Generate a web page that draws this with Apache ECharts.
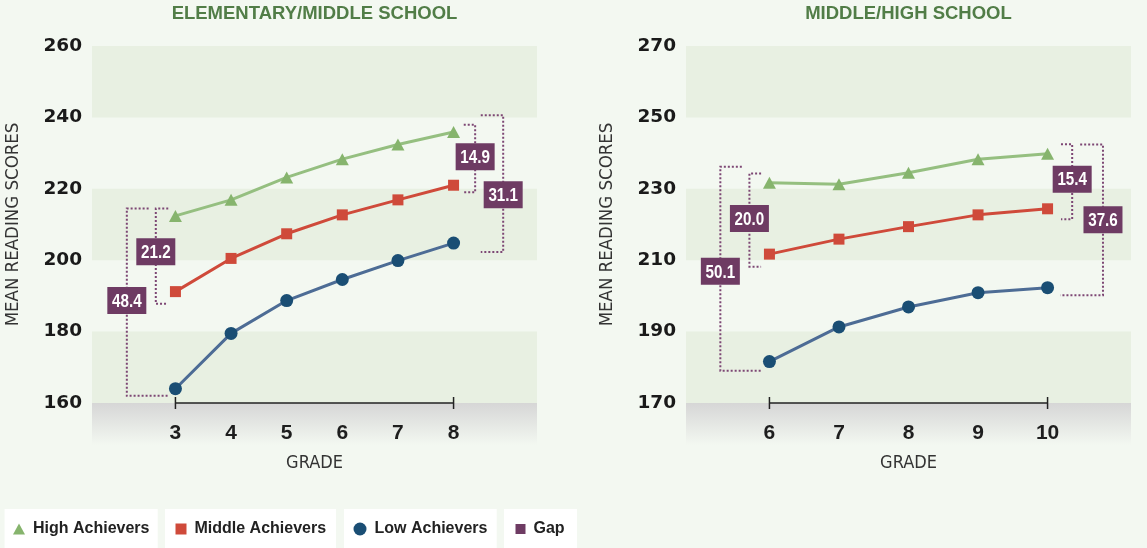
<!DOCTYPE html>
<html>
<head>
<meta charset="utf-8">
<script src="https://cdn.jsdelivr.net/npm/echarts@6/dist/echarts.min.js"></script>
<style>
html,body{margin:0;padding:0;background:#f3f8f1;}
#chart{width:1147px;height:548px;}
</style>
</head>
<body>
<div id="chart"></div>
<script>
// ---------- DATA ----------
const titles = ['ELEMENTARY/MIDDLE SCHOOL', 'MIDDLE/HIGH SCHOOL'];
const seriesNames = ['High Achievers', 'Middle Achievers', 'Low Achievers', 'Gap'];

const grades1 = [3, 4, 5, 6, 7, 8];
const high1   = [212.4, 216.9, 223.2, 228.3, 232.4, 235.9];
const middle1 = [191.2, 200.5, 207.4, 212.7, 216.9, 221.0];
const low1    = [164.0, 179.5, 188.7, 194.6, 199.9, 204.8];
const gaps1   = [48.4, 21.2, 14.9, 31.1];

const grades2 = [6, 7, 8, 9, 10];
const high2   = [231.7, 231.3, 234.5, 238.3, 239.8];
const middle2 = [211.7, 215.9, 219.4, 222.7, 224.4];
const low2    = [181.6, 191.3, 196.9, 200.9, 202.3];
const gaps2   = [50.1, 20.0, 15.4, 37.6];

const yTicks1 = [160, 180, 200, 220, 240, 260];
const yTicks2 = [170, 190, 210, 230, 250, 270];

// ---------- ANNOTATION LAYOUT (bracket placement, axis units) ----------
const gapX1      = [2.126, 2.647, 8.388, 8.892];
const gapTopEnd1 = [2.518, 2.871, 8.183, 8.489];
const gapBotEnd1 = [2.884, 2.859, 8.183, 8.489];
const gapTop1    = [214.5, 214.5, 237.95, 240.6];
const gapBot1    = [162.0, 187.8, 219.0, 202.3];
const gapLblY1   = [188.7, 202.4, 229.0, 218.3];

const gapX2      = [5.294, 5.712, 10.354, 10.797];
const gapTopEnd2 = [5.603, 5.88, 10.193, 10.469];
const gapBotEnd2 = [5.885, 5.88, 10.193, 10.182];
const gapTop2    = [236.2, 234.3, 242.5, 242.4];
const gapBot2    = [179.0, 208.2, 221.5, 200.2];
const gapLblY2   = [206.9, 221.7, 232.7, 221.3];

// ---------- STYLE ----------
const BG = '#f3f8f1';
const BAND = '#e8f0e2';
const GREEN_LINE = '#95bf80', GREEN = '#86b46d';
const RED = '#cf4a3a';
const BLUE_LINE = '#4d6c95', BLUE = '#1a4e74';
const PURPLE = '#6e3b63', PURPLE_DOT = '#7d4774';
const SANS = '"Liberation Sans",Arial,sans-serif';
const COND = '"DejaVu Sans Condensed","DejaVu Sans",sans-serif';

const G1 = {left: 92, top: 46, width: 445, height: 357};
const G2 = {left: 686, top: 46, width: 445, height: 357};

function pairs(xs, ys) { return xs.map((x, i) => [x, ys[i]]); }

function gapData(xv, te, be, t, b, ly, g) {
  return g.map((v, i) => [xv[i], te[i], be[i], t[i], b[i], ly[i], v]);
}

function renderGap(params, api) {
  const xv = api.value(0), xt = api.value(1), xb = api.value(2);
  const yt = api.value(3), yb = api.value(4), yl = api.value(5), v = api.value(6);
  const a = api.coord([xt, yt]), b = api.coord([xv, yt]), c = api.coord([xv, yb]), d = api.coord([xb, yb]);
  const p = api.coord([xv, yl]);
  return {
    type: 'group',
    children: [
      {type: 'polyline', shape: {points: [a, b, c, d]},
       style: {stroke: PURPLE_DOT, lineWidth: 2, lineDash: [2, 2], fill: null}},
      {type: 'rect', shape: {x: p[0] - 19.5, y: p[1] - 13.5, width: 39, height: 27},
       style: {fill: PURPLE}},
      {type: 'text', x: p[0], y: p[1] + 1, scaleX: 0.8,
       style: {text: Number(v).toFixed(1), fill: '#ffffff', font: 'bold 19px ' + SANS,
               align: 'center', verticalAlign: 'middle'}}
    ]
  };
}

function lineSeries(name, data, idx, lineColor, color, symbol, size) {
  return {
    name: name, type: 'line', xAxisIndex: idx, yAxisIndex: idx, data: data,
    symbol: symbol, symbolSize: size, showSymbol: true,
    lineStyle: {color: lineColor, width: 3}, itemStyle: {color: color},
    z: 3
  };
}

function baseSeries(xs, ymin, idx) {
  return {
    type: 'line', xAxisIndex: idx, yAxisIndex: idx, clip: false, silent: true,
    data: [[xs[0], ymin], [xs[xs.length - 1], ymin]],
    symbol: 'rect', symbolSize: [1.5, 12], showSymbol: true,
    lineStyle: {color: '#222', width: 1.5}, itemStyle: {color: '#222'}, z: 2
  };
}

function xAxisCfg(idx, min, max, ticks) {
  return {
    type: 'value', gridIndex: idx, min: min, max: max,
    axisLine: {show: false}, axisTick: {show: false}, splitLine: {show: false},
    axisLabel: {customValues: ticks, margin: 20, color: '#1e1e1e',
                fontFamily: SANS, fontWeight: 'bold', fontSize: 21},
    name: 'GRADE', nameLocation: 'middle', nameGap: 51,
    nameTextStyle: {fontFamily: COND, fontSize: 18, color: '#333'}
  };
}

function yAxisCfg(idx, ticks) {
  return {
    type: 'value', gridIndex: idx, min: ticks[0], max: ticks[ticks.length - 1],
    interval: ticks[1] - ticks[0],
    axisLine: {show: false}, axisTick: {show: false}, splitLine: {show: false},
    splitArea: {show: true, areaStyle: {color: [BAND, 'rgba(0,0,0,0)']}},
    axisLabel: {margin: 10, color: '#1a1a1a', fontFamily: '"DejaVu Sans",sans-serif',
                fontWeight: 'bold', fontSize: 18.5},
    name: 'MEAN READING SCORES', nameLocation: 'middle', nameGap: 69,
    nameTextStyle: {fontFamily: COND, fontSize: 18.5, color: '#333'}
  };
}

function grayRect(g) {
  return {
    type: 'rect', z: -1, silent: true,
    shape: {x: g.left, y: g.top + g.height, width: g.width, height: 42},
    style: {fill: new echarts.graphic.LinearGradient(0, 0, 0, 1, [
      {offset: 0, color: '#d6d6d6'}, {offset: 1, color: BG}])}
  };
}

const legendBoxes = [[4.6, 153.1], [165, 171], [344, 152.7], [504, 73]];
const legendLeft = [13, 175.5, 353.5, 515.5];
const legendIcon = ['triangle', 'rect', 'circle', 'rect'];
const legendIconSize = [[12, 11], [11, 11], [13, 13], [10, 10]];
const legendColors = [GREEN, RED, BLUE, PURPLE];

const chart = echarts.init(document.getElementById('chart'), null, {renderer: 'canvas'});

const option = {
  backgroundColor: BG,
  animation: false,
  title: titles.map((t, i) => ({
    text: t, left: (i === 0 ? G1.left + G1.width / 2 : G2.left + G2.width / 2), top: 4,
    textAlign: 'center', padding: 0,
    textStyle: {fontFamily: SANS, fontWeight: 'bold', fontSize: 18.5, color: '#517d47', lineHeight: 20}
  })),
  grid: [
    Object.assign({containLabel: false}, G1),
    Object.assign({containLabel: false}, G2)
  ],
  xAxis: [xAxisCfg(0, 1.5, 9.5, grades1), xAxisCfg(1, 4.8, 11.2, grades2)],
  yAxis: [yAxisCfg(0, yTicks1), yAxisCfg(1, yTicks2)],
  legend: seriesNames.map((n, i) => ({
    data: [{name: n, icon: legendIcon[i], itemStyle: {color: legendColors[i]}}],
    left: legendLeft[i], top: 519, padding: 0, itemGap: 0,
    itemWidth: legendIconSize[i][0], itemHeight: legendIconSize[i][1],
    selectedMode: false,
    textStyle: {fontFamily: SANS, fontWeight: 'bold', fontSize: 16, color: '#222',
                lineHeight: 20, padding: [0, 0, 0, 3]}
  })),
  graphic: [
    grayRect(G1), grayRect(G2)
  ].concat(legendBoxes.map(b => ({
    type: 'rect', z: -1, silent: true,
    shape: {x: b[0], y: 509, width: b[1], height: 60},
    style: {fill: '#ffffff'}
  }))),
  series: [
    baseSeries(grades1, yTicks1[0], 0),
    baseSeries(grades2, yTicks2[0], 1),
    lineSeries(seriesNames[0], pairs(grades1, high1), 0, GREEN_LINE, GREEN, 'triangle', [13, 12]),
    lineSeries(seriesNames[1], pairs(grades1, middle1), 0, RED, RED, 'rect', 11),
    lineSeries(seriesNames[2], pairs(grades1, low1), 0, BLUE_LINE, BLUE, 'circle', 13),
    lineSeries(seriesNames[0], pairs(grades2, high2), 1, GREEN_LINE, GREEN, 'triangle', [13, 12]),
    lineSeries(seriesNames[1], pairs(grades2, middle2), 1, RED, RED, 'rect', 11),
    lineSeries(seriesNames[2], pairs(grades2, low2), 1, BLUE_LINE, BLUE, 'circle', 13),
    {
      name: seriesNames[3], type: 'custom', xAxisIndex: 0, yAxisIndex: 0,
      itemStyle: {color: PURPLE}, renderItem: renderGap, z: 4,
      encode: {x: [0, 1, 2], y: [3, 4, 5]},
      data: gapData(gapX1, gapTopEnd1, gapBotEnd1, gapTop1, gapBot1, gapLblY1, gaps1)
    },
    {
      name: seriesNames[3], type: 'custom', xAxisIndex: 1, yAxisIndex: 1,
      itemStyle: {color: PURPLE}, renderItem: renderGap, z: 4,
      encode: {x: [0, 1, 2], y: [3, 4, 5]},
      data: gapData(gapX2, gapTopEnd2, gapBotEnd2, gapTop2, gapBot2, gapLblY2, gaps2)
    }
  ]
};
chart.setOption(option);
</script>
</body>
</html>
